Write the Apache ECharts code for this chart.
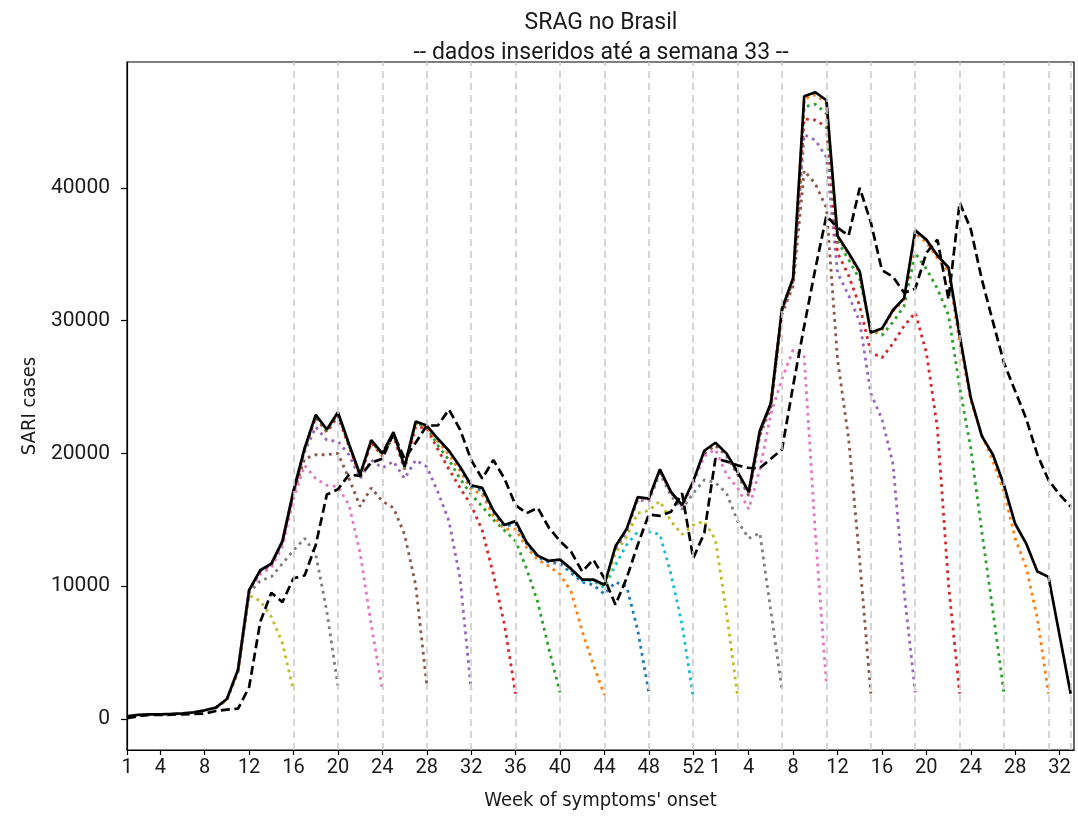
<!DOCTYPE html>
<html>
<head>
<meta charset="utf-8">
<script src="https://cdn.jsdelivr.net/npm/echarts@6/dist/echarts.min.js"></script>
<style>
html,body{margin:0;padding:0;background:#fff;}
#chart{width:1078px;height:816px;}
</style>
</head>
<body>
<div id="chart"></div>
<script>
// ---- tick labels (x = week index since 2020 week 1; 2020 has 53 epi weeks) ----
const xTickPos = [0,3,7,11,15,19,23,27,31,35,39,43,47,51,53,56,60,64,68,72,76,80,84];
const xTickLabels = ['1','4','8','12','16','20','24','28','32','36','40','44','48','52','1','4','8','12','16','20','24','28','32'];
const yTicks = [0,10000,20000,30000,40000];

// ---- latest estimate (solid black), index 0..85 ----
const latest = [
  200, 300, 350, 350, 380, 420, 500, 650, 850, 1500,
  3700, 9700, 11200, 11700, 13400, 17200, 20400, 22900, 21800, 23100,
  20700, 18400, 21000, 20000, 21600, 19000, 22400, 22100, 21100, 20200,
  19000, 17600, 17400, 15700, 14600, 14900, 13300, 12300, 11900, 12000,
  11300, 10500, 10500, 10100, 13000, 14300, 16700, 16600, 18800, 17100,
  16100, 17900, 20200, 20800, 20000, 18600, 17100, 21700, 23800, 30900,
  33200, 46900, 47200, 46600, 36400, 35100, 33700, 29100, 29400, 30800,
  31700, 36800, 36100, 34900, 34000, 28900, 24200, 21300, 19900, 17600,
  14700, 13200, 11100, 10700, 6300, 1900
];

// ---- dashed black series, index 0..85 ----
const dashedSeries = [
  50, 200, 300, 300, 320, 350, 380, 400, 600, 700,
  770, 2400, 7300, 9500, 8800, 10600, 10800, 13100, 16900, 17300,
  18400, 18300, 19300, 19600, 21500, 19600, 20800, 22100, 22100, 23300,
  21800, 19500, 18100, 19500, 18100, 16100, 15500, 15900, 14400, 13400,
  12600, 11100, 12000, 10600, 8600, 10600, 13100, 15400, 15300, 15600,
  17000, 12100, 14000, 19600, 19400, 19100, 18900, 18900, 19600, 20300,
  25100, 29600, 33900, 37900, 37000, 36400, 40000, 37400, 33800, 33300,
  32100, 32400, 35100, 36100, 31600, 38900, 36900, 33100, 29900, 26800,
  24700, 22600, 19900, 18000, 16900, 16000
];

// ---- earlier estimates (dotted): first week index and values ----
const nowcastStart = [8, 8, 8, 10, 12, 14, 16, 26, 30, 40, 42, 44, 44, 52, 54, 56, 58, 58];
const nowcastValues = [
  [820, 1400, 3500, 9300, 8900, 7700, 5700, 2100],
  [840, 1450, 3600, 9500, 10400, 10700, 11700, 12700, 13600, 12400, 8100, 2500],
  [840, 1480, 3650, 9650, 10900, 11400, 13000, 16600, 19100, 18100, 17600, 17500, 16100, 12500, 7100, 2200],
  [3680, 9680, 11100, 11600, 13300, 17000, 19600, 19900, 19900, 20000, 18100, 16000, 17400, 16400, 15900, 13900, 10100, 2600],
  [11150, 11650, 13350, 17100, 20100, 22000, 21000, 20900, 19900, 18100, 19500, 18900, 19400, 18100, 19500, 19000, 17100, 14900, 10600, 2200],
  [13350, 17150, 20300, 22700, 21600, 22800, 20500, 18300, 20800, 19800, 21300, 18800, 22000, 21900, 20300, 18800, 17400, 16100, 14200, 10900, 7100, 1900],
  [20350, 22800, 21700, 23000, 20600, 18350, 20900, 19900, 21500, 18900, 22300, 22000, 20600, 19500, 18100, 16900, 16000, 15000, 14200, 13400, 11300, 8800, 5300, 2000],
  [22300, 22000, 20900, 19900, 18700, 17300, 16900, 15300, 14300, 14300, 12900, 12000, 11500, 10900, 9600, 6600, 4100, 1800],
  [18900, 17500, 17200, 15600, 14500, 14700, 13200, 12200, 11800, 11700, 11000, 10300, 10100, 9400, 10300, 10000, 6700, 2000],
  [11200, 10400, 10400, 9900, 11600, 13100, 14100, 14100, 13900, 10900, 7100, 1700],
  [10450, 10000, 12500, 13700, 15500, 15700, 16400, 14900, 13900, 14600, 14900, 13500, 8000, 1700],
  [12800, 14100, 16500, 16400, 18500, 16800, 15800, 17000, 18000, 17800, 17000, 14900, 13600, 14000, 8100, 2200],
  [12900, 14200, 16600, 16500, 18700, 17000, 16000, 17700, 19800, 20300, 18400, 17400, 15800, 18800, 23000, 25600, 27800, 27300, 14000, 2600],
  [20000, 20600, 19800, 18400, 16800, 21300, 23500, 30500, 32600, 41300, 40300, 38500, 27100, 21100, 11900, 1900],
  [19900, 18500, 17000, 21500, 23700, 30700, 33000, 44000, 43600, 42300, 33600, 31900, 29900, 24500, 22600, 19200, 9600, 2000],
  [17050, 21600, 23750, 30800, 33100, 45200, 45100, 44600, 35100, 33400, 31100, 27600, 27200, 28300, 29600, 30600, 27600, 21900, 10100, 1900],
  [23750, 30850, 33150, 46100, 46300, 45600, 36000, 34600, 33100, 29300, 28900, 29900, 31100, 35100, 33900, 32400, 30400, 25000, 20400, 14100, 8100, 1900],
  [23780, 30880, 33180, 46700, 47000, 46400, 36300, 35000, 33600, 29000, 29300, 30700, 31600, 36600, 35900, 34700, 33700, 28300, 24000, 21400, 19400, 17100, 13600, 11400, 7600, 1900]
];

// ---- weeks at which data were cut (vertical reference lines) ----
const cutoffWeeks = [15, 19, 23, 27, 31, 35, 39, 43, 47, 51, 55, 59, 63, 67, 71, 75, 79, 83, 85];

// ---- styles ----
const nowcastColors = ['#bcbd22','#7f7f7f','#e377c2','#8c564b','#9467bd','#d62728','#2ca02c','#ff7f0e','#1f77b4','#17becf',
                       '#bcbd22','#7f7f7f','#e377c2','#8c564b','#9467bd','#d62728','#2ca02c','#ff7f0e'];
const condensed = "'DejaVu Sans Condensed', 'Liberation Sans Narrow', 'Roboto Condensed', 'Roboto', sans-serif";

const tickLabelMap = {};
xTickPos.forEach((p, k) => { tickLabelMap[p] = xTickLabels[k]; });

const series = [];
series.push({
  type: 'line', data: [], silent: true, z: 1,
  markLine: {
    silent: true, symbol: ['none','none'], label: {show: false}, animation: false,
    lineStyle: {color: '#cbcbcb', width: 1.6, type: [7, 5]},
    data: cutoffWeeks.map(w => ({xAxis: w}))
  }
});
nowcastValues.forEach((vals, k) => {
  series.push({
    type: 'line', symbol: 'none', silent: true, z: 2,
    lineStyle: {color: nowcastColors[k], width: 2.8, type: [2.8, 4.4]},
    data: vals.map((v, j) => [nowcastStart[k] + j, v])
  });
});
series.push({
  type: 'line', symbol: 'none', silent: true, z: 3,
  lineStyle: {color: '#000', width: 2.7, type: [9, 4.5]},
  data: dashedSeries.map((v, i) => [i, v])
});
series.push({
  type: 'line', symbol: 'none', silent: true, z: 4,
  lineStyle: {color: '#000', width: 2.7},
  data: latest.map((v, i) => [i, v])
});

const chart = echarts.init(document.getElementById('chart'), null, {renderer: 'canvas'});
chart.setOption({
  animation: false,
  backgroundColor: '#fff',
  grid: {left: 127, right: 4, top: 62, bottom: 63, show: true, borderColor: '#000', borderWidth: 1.2, backgroundColor: 'transparent'},
  graphic: [
    {type: 'text', x: 601, y: 23, style: {text: 'SRAG no Brasil', textAlign: 'center', textVerticalAlign: 'middle', font: '23px Roboto', fill: '#1a1a1a'}},
    {type: 'text', x: 601, y: 53, style: {text: '-- dados inseridos até a semana 33 --', textAlign: 'center', textVerticalAlign: 'middle', font: '23px Roboto', fill: '#1a1a1a'}}
  ],
  xAxis: {
    type: 'value', min: 0, max: 85.3,
    axisLine: {show: true, onZero: false, lineStyle: {color: '#000', width: 1.2}},
    axisTick: {show: true, customValues: xTickPos, length: 5, lineStyle: {color: '#000', width: 1.2}},
    axisLabel: {customValues: xTickPos, formatter: v => tickLabelMap[v] || '', fontSize: 20, fontFamily: 'Roboto', color: '#1a1a1a', margin: 8},
    splitLine: {show: false},
    name: "Week of symptoms' onset", nameLocation: 'middle', nameGap: 41,
    nameTextStyle: {fontFamily: condensed, fontSize: 20, color: '#1a1a1a'}
  },
  yAxis: {
    type: 'value', min: -2340, max: 49480,
    axisLine: {show: true, lineStyle: {color: '#000', width: 1.2}},
    axisTick: {show: true, customValues: yTicks, length: 6, lineStyle: {color: '#000', width: 1.2}},
    axisLabel: {customValues: yTicks, formatter: v => String(v), fontSize: 21, fontFamily: 'Roboto', color: '#1a1a1a', margin: 17},
    splitLine: {show: false},
    name: 'SARI cases', nameLocation: 'middle', nameGap: 76,
    nameTextStyle: {fontFamily: condensed, fontSize: 20, color: '#1a1a1a'}
  },
  series: series
});
</script>
</body>
</html>
